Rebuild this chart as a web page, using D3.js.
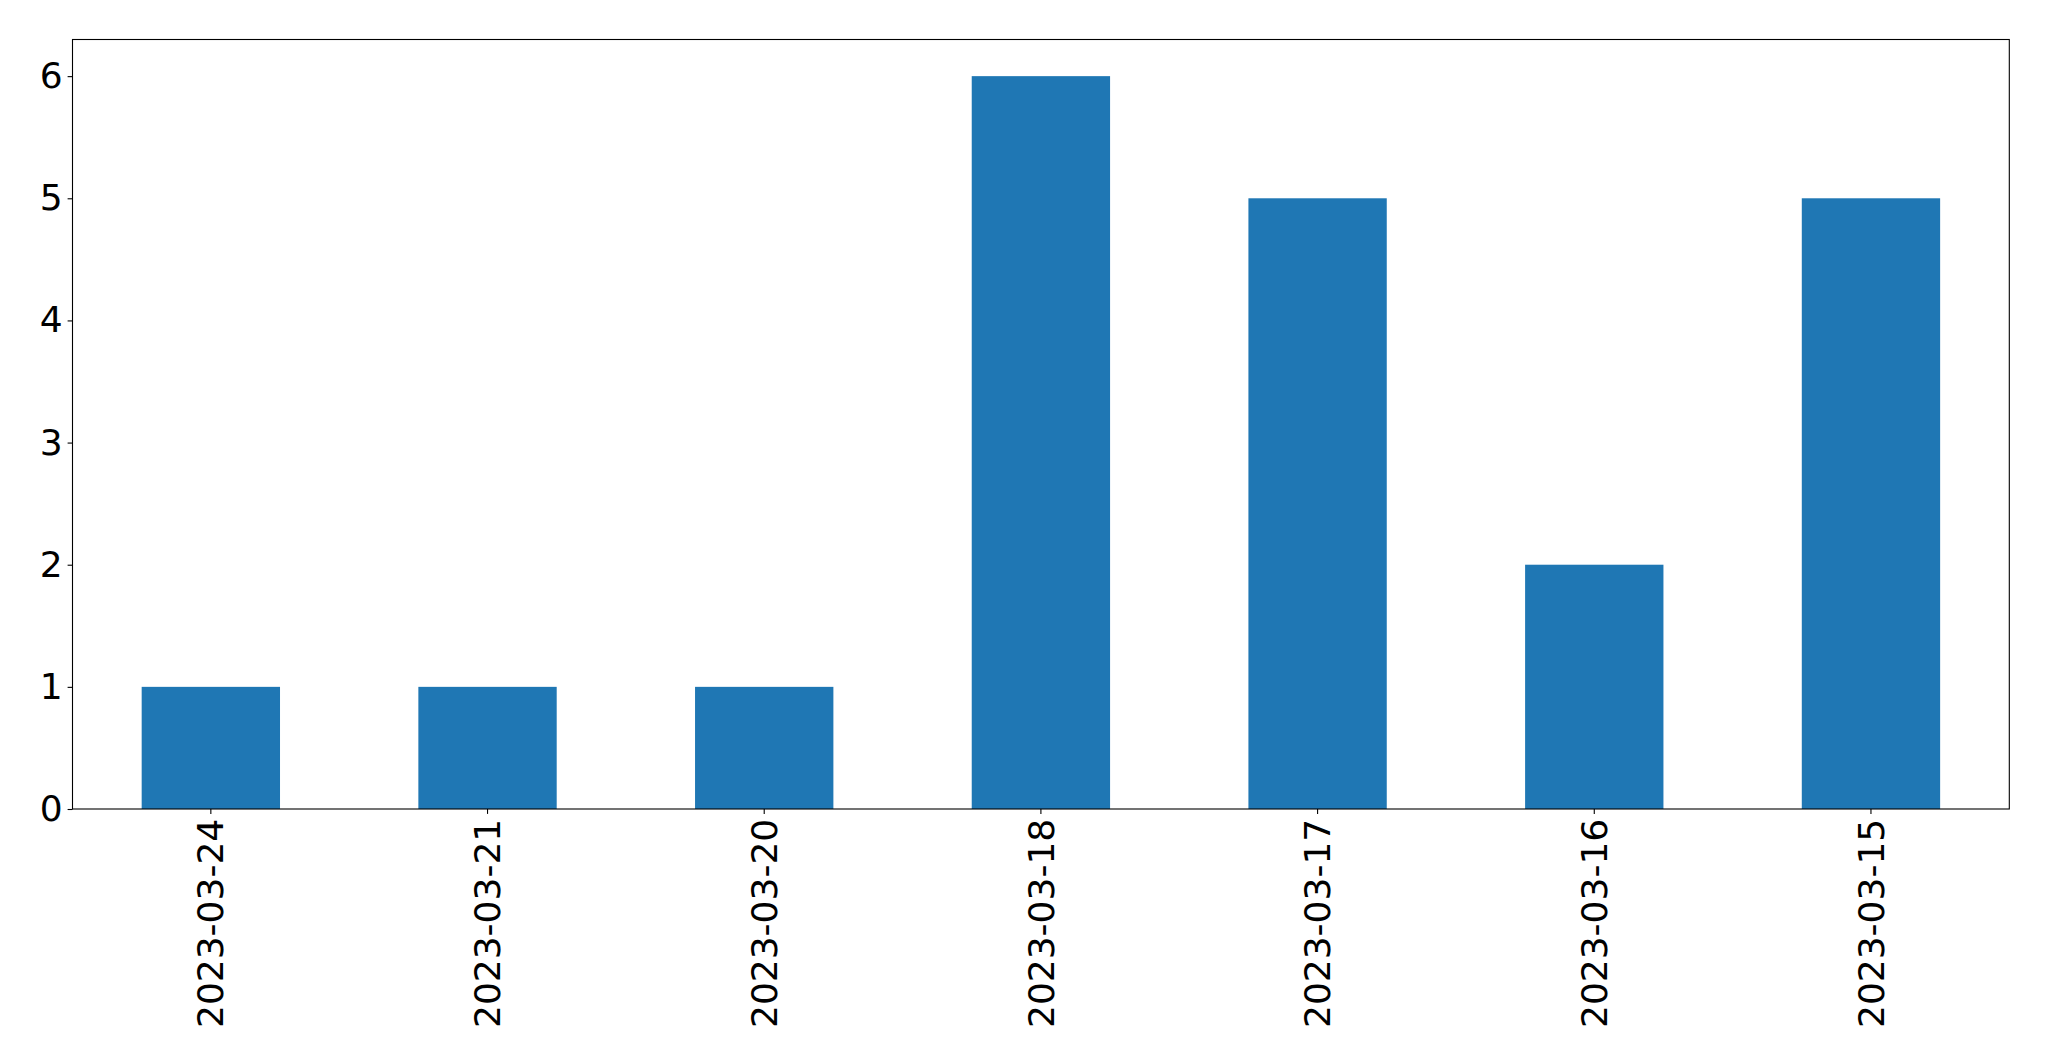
<!DOCTYPE html>
<html>
<head>
<meta charset="utf-8">
<script src="https://cdn.jsdelivr.net/npm/d3@7"></script>
<style>
  html, body { margin: 0; padding: 0; background: #fff; }
  svg { display: block; }
  text { font-family: "DejaVu Sans", sans-serif; }
</style>
</head>
<body>
<script>
const categories = ["2023-03-24", "2023-03-21", "2023-03-20", "2023-03-18", "2023-03-17", "2023-03-16", "2023-03-15"];
const values = [1, 1, 1, 6, 5, 2, 5];
const yTicks = [0, 1, 2, 3, 4, 5, 6];

(function () {
const W = 2049, H = 1061;
const mLeft = 72.5, mRight = 2009.3, mTop = 39.5, mBottom = 809;
const fontSize = 36;
const tickLen = 4.9, tickPad = 4.9;

const svg = d3.select("body").append("svg").attr("width", W).attr("height", H);

const x = d3.scaleLinear().domain([-0.5, categories.length - 0.5]).range([mLeft, mRight]);
const y = d3.scaleLinear().domain([0, 6.3]).range([mBottom, mTop]);
const barW = 0.5;

svg.append("g").selectAll("rect").data(values).join("rect")
  .attr("x", (d, i) => x(i - barW / 2))
  .attr("width", (d, i) => x(i + barW / 2) - x(i - barW / 2))
  .attr("y", d => y(d))
  .attr("height", d => y(0) - y(d))
  .attr("fill", "#1f77b4");

// frame
svg.append("rect").attr("x", mLeft).attr("y", mTop)
  .attr("width", mRight - mLeft).attr("height", mBottom - mTop)
  .attr("fill", "none").attr("stroke", "#000").attr("stroke-width", 1.1);

// y axis
const yAxis = d3.axisLeft(y).tickValues(yTicks).tickFormat(d3.format("d"))
  .tickSize(tickLen).tickPadding(tickPad);
const gy = svg.append("g").attr("transform", `translate(${mLeft},0)`).call(yAxis);
gy.select(".domain").remove();
gy.selectAll(".tick line").attr("stroke", "#000").attr("stroke-width", 1.1);
gy.selectAll(".tick text").attr("font-size", fontSize).attr("font-family", "DejaVu Sans").attr("fill", "#000");

// x axis
const xb = d3.scaleBand().domain(categories).range([x(-0.5), x(categories.length - 0.5)]);
const xAxis = d3.axisBottom(xb).tickSize(tickLen).tickPadding(tickPad);
const gx = svg.append("g").attr("transform", `translate(0,${mBottom})`).call(xAxis);
gx.select(".domain").remove();
gx.selectAll(".tick line").attr("stroke", "#000").attr("stroke-width", 1.1);
gx.selectAll(".tick text")
  .attr("font-size", fontSize).attr("font-family", "DejaVu Sans").attr("fill", "#000")
  .attr("transform", "rotate(-90)")
  .attr("text-anchor", "end")
  .attr("dy", "0.35em")
  .attr("y", 0)
  .attr("x", -(tickLen + tickPad));
})();
</script>
</body>
</html>
